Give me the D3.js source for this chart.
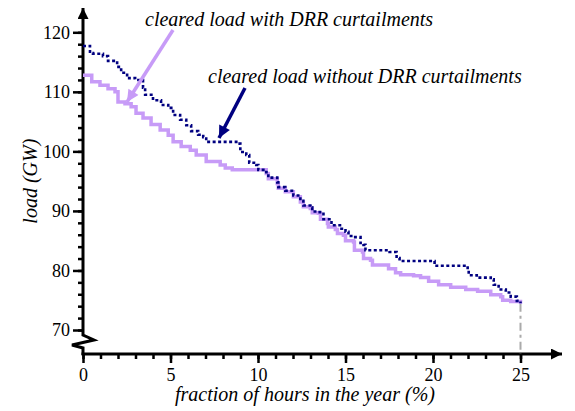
<!DOCTYPE html>
<html>
<head>
<meta charset="utf-8">
<script src="https://cdn.jsdelivr.net/npm/d3@7"></script>
<style>
  body { margin: 0; background: #fff; }
</style>
</head>
<body>
<div id="chart"></div>
<script>
// fraction of hours (%) and load (GW)
const withDrrX = [0, 0.5, 0.97, 1.43, 1.83, 2.0, 2.4, 2.75, 3.03, 3.43, 3.89, 4.41, 4.87, 5.15, 5.61, 6.13, 6.47, 7.04, 7.84, 8.13, 8.53,
  10.47, 10.59, 11.1, 11.16, 11.56, 12.02, 12.42, 12.59, 12.99, 13.1, 13.45, 13.57, 13.97, 14.02, 14.42, 14.54, 14.88, 15.0,
  15.46, 15.51, 15.97, 16.03, 16.43, 16.54, 17.46, 17.86, 18.15, 18.89, 19.29, 19.75, 20.32, 21.01, 21.87, 22.55, 23.3,
  23.87, 23.98, 24.44, 25.0];
const withDrrY = [112.8, 111.7, 111.1, 110.5, 110.0, 108.3, 108.0, 107.5, 106.4, 105.6, 104.5, 103.6, 102.7, 101.6, 100.8, 100.2, 99.4, 98.3, 97.7, 97.2, 96.9,
  96.3, 95.4, 94.6, 93.8, 93.2, 92.4, 91.5, 90.7, 90.4, 89.7, 89.6, 88.6, 87.9, 87.3, 86.9, 86.2, 85.9, 85.0,
  84.8, 83.4, 83.1, 82.0, 81.7, 80.9, 80.3, 79.6, 79.3, 79.1, 78.8, 78.2, 77.6, 77.2, 76.8, 76.5, 75.9,
  75.6, 75.0, 74.8, 74.4];

const noDrrX = [0, 0.4, 0.57, 1.14, 1.43, 1.95, 2.18, 2.52, 2.98, 3.43, 3.55, 4.0, 4.46, 4.87, 5.15, 5.55, 5.9, 6.18, 6.58, 6.87, 7.04,
  8.76, 8.99, 9.33, 9.5, 9.9, 10.02, 10.47, 10.59, 11.1, 11.16, 11.56, 12.02, 12.42, 12.59, 12.99, 13.1, 13.45,
  13.74, 14.2, 14.77, 15.0, 15.17, 15.46, 15.86, 16.03, 16.14, 17.52, 17.92, 18.09, 20.09, 21.98, 22.04, 22.5,
  23.3, 23.47, 23.75, 24.16, 24.44, 24.79, 25.0];
const noDrrY = [117.7, 116.5, 116.4, 116.0, 115.2, 114.2, 113.2, 112.3, 112.0, 110.7, 109.5, 108.6, 107.8, 107.3, 106.1, 105.3, 104.4, 103.4, 102.8, 102.4, 101.6,
  101.3, 99.9, 99.4, 98.1, 97.7, 96.9, 96.5, 95.6, 94.8, 94.0, 93.4, 92.6, 91.7, 90.9, 90.6, 89.9, 89.8,
  88.6, 87.6, 87.0, 86.5, 85.8, 85.6, 84.6, 84.3, 83.4, 83.1, 82.1, 81.6, 80.8, 80.0, 79.2, 78.8,
  78.5, 77.6, 76.8, 76.3, 75.6, 74.9, 74.5];

const xTicks = [0, 5, 10, 15, 20, 25];
const yTicks = [70, 80, 90, 100, 110, 120];

const serif = '"Liberation Serif", "DejaVu Serif", serif';

const width = 575, height = 411;
const svg = d3.select("#chart").append("svg")
  .attr("width", width)
  .attr("height", height);

const x = d3.scaleLinear().domain([0, 25]).range([83, 520.5]);
const y = d3.scaleLinear().domain([70, 120]).range([330, 32.3]);
const axisY = 354; // pixel row of the x axis

const defs = svg.append("defs");
function marker(id, color, w, h) {
  defs.append("marker")
    .attr("id", id)
    .attr("viewBox", "0 0 10 10")
    .attr("refX", 10).attr("refY", 5)
    .attr("markerWidth", w).attr("markerHeight", h)
    .attr("markerUnits", "userSpaceOnUse")
    .attr("orient", "auto")
    .append("path")
    .attr("d", "M0,0 L10,5 L0,10 Z")
    .attr("fill", color);
}
marker("arrAxis", "#000", 12, 11);
marker("arrPurple", "#c79bf7", 14, 12);
marker("arrNavy", "#000080", 14, 12);

// x axis: minor ticks then major with labels
svg.append("g")
  .attr("transform", `translate(0,${axisY})`)
  .call(d3.axisBottom(x).tickValues(d3.range(0, 26)).tickSize(5).tickFormat(""))
  .call(g => g.select(".domain").remove())
  .call(g => g.selectAll("line").attr("stroke", "#000").attr("stroke-width", 2.5));
svg.append("g")
  .attr("transform", `translate(0,${axisY})`)
  .call(d3.axisBottom(x).tickValues(xTicks).tickSize(9).tickPadding(5).tickFormat(d3.format("d")))
  .call(g => g.select(".domain").remove())
  .call(g => g.selectAll("line").attr("stroke", "#000").attr("stroke-width", 2.5))
  .call(g => g.selectAll("text").attr("fill", "#000")
    .style("font-family", serif, "important").style("font-size", "18px"));

// y axis
svg.append("g")
  .attr("transform", `translate(${x(0)},0)`)
  .call(d3.axisLeft(y).tickValues(d3.range(70, 121, 2)).tickSize(5).tickFormat(""))
  .call(g => g.select(".domain").remove())
  .call(g => g.selectAll("line").attr("stroke", "#000").attr("stroke-width", 2.5));
svg.append("g")
  .attr("transform", `translate(${x(0)},0)`)
  .call(d3.axisLeft(y).tickValues(yTicks).tickSize(10).tickPadding(3).tickFormat(d3.format("d")))
  .call(g => g.select(".domain").remove())
  .call(g => g.selectAll("line").attr("stroke", "#000").attr("stroke-width", 2.5))
  .call(g => g.selectAll("text").attr("fill", "#000")
    .style("font-family", serif, "important").style("font-size", "18px"));

// axis lines with arrows and the break on the y axis
const x0 = x(0);
svg.append("path")
  .attr("d", `M${x0},${axisY + 1} L${x0},348 L72,345 L94,340 L${x0},335 L${x0},8`)
  .attr("fill", "none").attr("stroke", "#000").attr("stroke-width", 3)
  .attr("stroke-linejoin", "miter")
  .attr("marker-end", "url(#arrAxis)");
svg.append("path")
  .attr("d", `M${x0 - 1.5},${axisY} L562,${axisY}`)
  .attr("fill", "none").attr("stroke", "#000").attr("stroke-width", 3)
  .attr("marker-end", "url(#arrAxis)");

// dash-dot marker at 25 %
svg.append("line")
  .attr("x1", x(25)).attr("x2", x(25))
  .attr("y1", y(withDrrY[withDrrY.length - 1])).attr("y2", axisY)
  .attr("stroke", "#aaaaaa").attr("stroke-width", 2)
  .attr("stroke-dasharray", "8,4,3,4");

const line = d3.line()
  .x(d => x(d[0]))
  .y(d => y(d[1]))
  .curve(d3.curveStepAfter);

svg.append("path")
  .datum(d3.zip(withDrrX, withDrrY))
  .attr("d", line)
  .attr("fill", "none")
  .attr("stroke", "#c79bf7")
  .attr("stroke-width", 3.5);

svg.append("path")
  .datum(d3.zip(noDrrX, noDrrY))
  .attr("d", line)
  .attr("fill", "none")
  .attr("stroke", "#000080")
  .attr("stroke-width", 2.6)
  .attr("stroke-dasharray", "3,2.5");

// annotations
svg.append("line")
  .attr("x1", 173).attr("y1", 30).attr("x2", 127).attr("y2", 102)
  .attr("stroke", "#c79bf7").attr("stroke-width", 3.5)
  .attr("marker-end", "url(#arrPurple)");
svg.append("line")
  .attr("x1", 245).attr("y1", 88).attr("x2", 219).attr("y2", 138)
  .attr("stroke", "#000080").attr("stroke-width", 3.5)
  .attr("marker-end", "url(#arrNavy)");

function label(xp, yp, str, anchor) {
  return svg.append("text")
    .attr("x", xp).attr("y", yp)
    .attr("text-anchor", anchor)
    .style("font-family", serif, "important")
    .style("font-size", "20px")
    .style("font-style", "italic")
    .text(str);
}
label(145, 26, "cleared load with DRR curtailments", "start");
label(208, 83, "cleared load without DRR curtailments", "start");
label(0, 0, "load (GW)", "middle")
  .attr("transform", `translate(37,${y(95)}) rotate(-90)`);
label(305, 401, "fraction of hours in the year (%)", "middle");
</script>
</body>
</html>
